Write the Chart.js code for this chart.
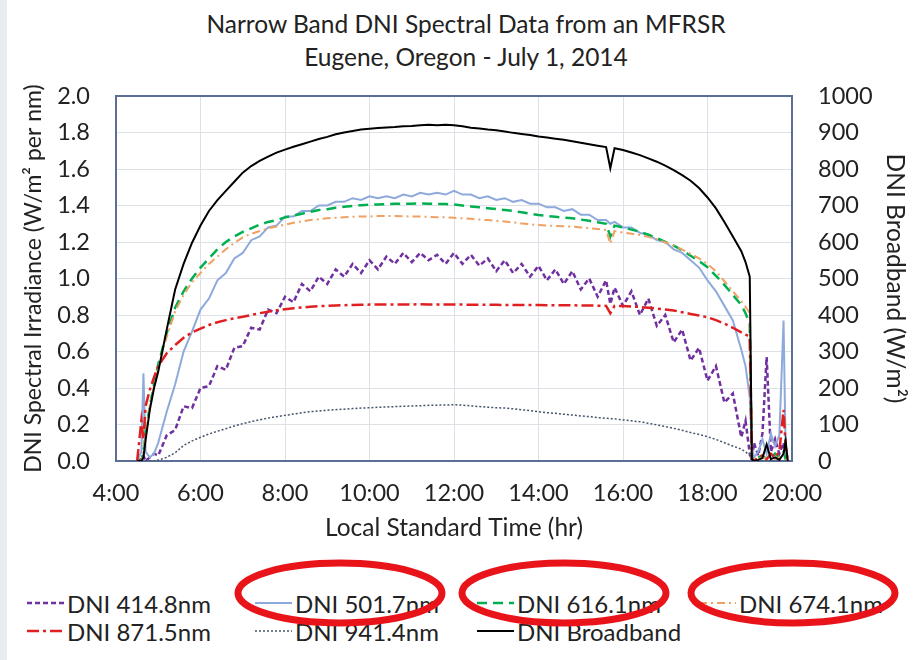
<!DOCTYPE html>
<html>
<head>
<meta charset="utf-8">
<script src="https://cdn.jsdelivr.net/npm/chart.js@4.4.1/dist/chart.umd.min.js"></script>
<style>
  body { margin: 0; background: #fff; }
  #wrap { position: relative; width: 917px; height: 660px; overflow: hidden; background: #fff; font-family: Lato, sans-serif; color: #222; }
  #strip { position: absolute; left: 0; top: 0; width: 7px; height: 660px; background: #e8ecf0; }
  #title { position: absolute; left: 0; top: 7px; width: 917px; padding-left: 15px; box-sizing: border-box; text-align: center; font-size: 24.5px; line-height: 33px; }
  #myChart { position: absolute; left: 0; top: 0; }
  #legend { position: absolute; left: 27px; top: 589px; display: grid; grid-template-columns: 228px 222px 222px 200px; grid-auto-rows: 28px; font-size: 24px; }
  .item { display: flex; align-items: center; white-space: nowrap; }
  .item svg { margin-right: 3px; }
  #marks { position: absolute; left: 0; top: 0; }
</style>
</head>
<body>
<div id="wrap">
  <div id="strip"></div>
  <div id="title">Narrow Band DNI Spectral Data from an MFRSR<br>Eugene, Oregon - July 1, 2014</div>
  <canvas id="myChart" width="917" height="545"></canvas>
  <div id="legend"></div>
  <svg id="marks" width="917" height="660">
    <ellipse cx="340" cy="593" rx="102" ry="30" fill="none" stroke="#e8141a" stroke-width="7"/>
    <ellipse cx="564" cy="593" rx="102" ry="30" fill="none" stroke="#e8141a" stroke-width="7"/>
    <ellipse cx="793" cy="593" rx="102" ry="30" fill="none" stroke="#e8141a" stroke-width="7"/>
  </svg>
</div>
<script>
// Heure locale (hr)
const timeHours = [
  4.5, 4.6, 4.65, 4.7, 4.8, 4.9,
  5.0, 5.2, 5.4, 5.6, 5.8, 6.0, 6.2, 6.4, 6.6, 6.8,
  7.0, 7.2, 7.4, 7.6, 7.8, 8.0, 8.2, 8.4, 8.6, 8.8,
  9.0, 9.2, 9.4, 9.6, 9.8, 10.0, 10.2, 10.4, 10.6, 10.8,
  11.0, 11.2, 11.4, 11.6, 11.8, 12.0, 12.2, 12.4, 12.6, 12.8,
  13.0, 13.2, 13.4, 13.6, 13.8, 14.0, 14.2, 14.4, 14.6, 14.8,
  15.0, 15.2, 15.4, 15.6, 15.7, 15.8,
  16.0, 16.2, 16.4, 16.6, 16.8, 17.0, 17.2, 17.4, 17.6, 17.8,
  18.0, 18.2, 18.4, 18.6, 18.8, 18.9, 19.0,
  19.05, 19.1, 19.2, 19.3, 19.4, 19.5, 19.6, 19.7, 19.8, 19.85, 19.9
];

// Irradiance spectrale (W/m2 par nm)
const dni414 = [
  0, 0.01, 0.03, 0.0, 0.02, 0.04,
  0.03, 0.14, 0.17, 0.3, 0.29, 0.4, 0.41, 0.52, 0.5, 0.62,
  0.63, 0.73, 0.72, 0.83, 0.81, 0.9, 0.87, 0.97, 0.93, 1.01,
  0.97, 1.05, 1.01, 1.08, 1.03, 1.1, 1.05, 1.12, 1.08, 1.14,
  1.09, 1.14, 1.1, 1.13, 1.08, 1.14, 1.08, 1.13, 1.07, 1.11,
  1.04, 1.1, 1.03, 1.08, 1.01, 1.07, 0.99, 1.05, 0.97, 1.04,
  0.94, 1.0, 0.9, 0.99, 0.86, 0.95,
  0.85, 0.93, 0.8, 0.89, 0.74, 0.8, 0.65, 0.72, 0.55, 0.62,
  0.44, 0.52, 0.32, 0.37, 0.13, 0.22, 0.04,
  0.01, 0.1, 0.03, 0.15, 0.57, 0.05, 0.12, 0.04, 0.1, 0.02, 0
];
const dni501 = [
  0, 0.05, 0.48, 0.05, 0.02, 0.04,
  0.1, 0.27, 0.42, 0.6, 0.71, 0.83, 0.89, 0.99, 1.03, 1.11,
  1.14, 1.21, 1.23, 1.28, 1.29, 1.34, 1.34, 1.37, 1.37, 1.4,
  1.4, 1.42, 1.42, 1.44, 1.43, 1.45, 1.44, 1.45, 1.44, 1.46,
  1.45, 1.47, 1.46, 1.47, 1.46, 1.48, 1.46, 1.46, 1.44, 1.45,
  1.43, 1.44, 1.42, 1.43, 1.41, 1.41, 1.39, 1.39, 1.37, 1.38,
  1.35, 1.35, 1.32, 1.32, 1.3, 1.31,
  1.28, 1.28, 1.25, 1.24, 1.21, 1.2, 1.16, 1.14, 1.1, 1.06,
  0.99, 0.93, 0.85, 0.77, 0.61, 0.52, 0.35,
  0.08, 0.02, 0.05, 0.12, 0.04, 0.15, 0.08, 0.14, 0.77, 0.05, 0
];
const dni616 = [
  0, 0, 0.05, 0.15, 0.3, 0.42,
  0.53, 0.7, 0.84, 0.93, 1.0, 1.06, 1.11, 1.16, 1.2, 1.23,
  1.255, 1.275, 1.295, 1.31, 1.32, 1.335, 1.345, 1.355, 1.365, 1.375,
  1.38, 1.388, 1.393, 1.398, 1.402, 1.405, 1.406, 1.408, 1.41, 1.41,
  1.41, 1.412, 1.41, 1.408, 1.408, 1.405, 1.4, 1.395, 1.39, 1.385,
  1.38, 1.375, 1.37, 1.363, 1.355, 1.348, 1.343, 1.338, 1.334, 1.33,
  1.323, 1.316, 1.308, 1.3, 1.23, 1.29,
  1.28, 1.268, 1.256, 1.24, 1.222, 1.2, 1.18, 1.155, 1.125, 1.095,
  1.062, 1.015, 0.965, 0.91, 0.855, 0.81, 0.75,
  0.02, 0, 0.02, 0.03, 0.01, 0.02, 0.04, 0.02, 0.05, 0.01, 0
];
const dni674 = [
  0, 0, 0.05, 0.15, 0.3, 0.41,
  0.51, 0.68, 0.82, 0.91, 0.98, 1.03, 1.08, 1.12, 1.16, 1.195,
  1.225, 1.245, 1.26, 1.275, 1.285, 1.295, 1.305, 1.313, 1.32, 1.325,
  1.33, 1.333, 1.336, 1.338, 1.34, 1.34, 1.342, 1.342, 1.342, 1.341,
  1.34, 1.34, 1.338, 1.336, 1.335, 1.333, 1.33, 1.327, 1.323, 1.32,
  1.316, 1.312, 1.307, 1.302, 1.297, 1.293, 1.29, 1.288, 1.286, 1.284,
  1.28, 1.276, 1.271, 1.266, 1.19, 1.26,
  1.252, 1.245, 1.238, 1.228, 1.215, 1.198, 1.18, 1.158, 1.135, 1.11,
  1.08, 1.04, 0.985, 0.93, 0.875, 0.845, 0.81,
  0.02, 0, 0.01, 0.02, 0.01, 0.03, 0.01, 0.02, 0.04, 0.01, 0
];
const dni871 = [
  0, 0.22, 0.12, 0.3, 0.39, 0.46,
  0.52, 0.59, 0.635, 0.675, 0.705, 0.725, 0.745, 0.76, 0.772, 0.782,
  0.79, 0.8, 0.81, 0.818, 0.826, 0.832, 0.837, 0.841, 0.845, 0.848,
  0.85, 0.852, 0.854, 0.855, 0.856, 0.857, 0.857, 0.858, 0.858, 0.858,
  0.858, 0.859, 0.858, 0.858, 0.857, 0.857, 0.857, 0.856, 0.856, 0.856,
  0.856, 0.855, 0.855, 0.855, 0.855, 0.855, 0.854, 0.854, 0.853, 0.853,
  0.852, 0.852, 0.851, 0.85, 0.81, 0.85,
  0.849, 0.847, 0.844, 0.84, 0.835, 0.83, 0.825, 0.815, 0.806, 0.797,
  0.788, 0.772, 0.753, 0.73, 0.705, 0.693, 0.68,
  0.01, 0, 0.02, 0.03, 0.01, 0.04, 0.02, 0.05, 0.28, 0.08, 0
];
const dni941 = [
  0, 0, 0, 0, 0, 0,
  0.005, 0.02, 0.045, 0.085, 0.11, 0.13, 0.148, 0.163, 0.177, 0.192,
  0.205, 0.216, 0.226, 0.235, 0.243, 0.25, 0.257, 0.264, 0.27, 0.274,
  0.278, 0.281, 0.284, 0.287, 0.29, 0.292, 0.294, 0.296, 0.298, 0.3,
  0.301, 0.303, 0.305, 0.306, 0.307, 0.308, 0.306, 0.302, 0.298, 0.295,
  0.292, 0.29, 0.286, 0.281, 0.276, 0.27, 0.265, 0.261, 0.256, 0.252,
  0.247, 0.243, 0.238, 0.234, 0.232, 0.231,
  0.225, 0.22, 0.215, 0.207, 0.198, 0.189, 0.179, 0.168, 0.156, 0.145,
  0.133, 0.118, 0.1, 0.082, 0.065, 0.05, 0.03,
  0, 0, 0, 0, 0, 0, 0, 0, 0, 0, 0
];
// Rayonnement direct large bande (W/m2), axe de droite
const dniBroadband = [
  0, 0, 10, 57, 140, 200,
  245, 360, 470, 540, 598, 645, 685, 715, 740, 765,
  790, 808, 822, 834, 845, 853, 861, 868, 875, 882,
  888, 895, 900, 904, 908, 910, 912, 914, 915, 917,
  918, 920, 921, 920, 921, 920, 917, 913, 911, 908,
  906, 903, 899, 896, 893, 889, 886, 883, 880, 876,
  872, 868, 864, 860, 802, 857,
  852, 845, 838, 829, 820, 809, 797, 783, 768, 748,
  722, 692, 655, 615, 575, 545, 505,
  5, 0, 3, 8, 45, 5, 10, 3, 20, 55, 0
];

const seriesLabels = ['DNI 414.8nm', 'DNI 501.7nm', 'DNI 616.1nm', 'DNI 674.1nm', 'DNI 871.5nm', 'DNI 941.4nm', 'DNI Broadband'];

const FONT = 'Lato, sans-serif';
const TEXT = '#222222';

function points(values) {
  return timeHours.map((t, i) => ({ x: t, y: values[i] }));
}

const styles = [
  { color: '#7030a0', width: 2.5, dash: [5, 3] },
  { color: '#8eaadc', width: 2, dash: [] },
  { color: '#00b050', width: 2.5, dash: [10, 6] },
  { color: '#f0a062', width: 2, dash: [8, 4, 2, 4] },
  { color: '#e02020', width: 2.5, dash: [12, 4, 3, 4] },
  { color: '#44546a', width: 1.5, dash: [2, 2] },
  { color: '#000000', width: 2, dash: [] }
];
const values = [dni414, dni501, dni616, dni674, dni871, dni941, dniBroadband];

const datasets = values.map((v, i) => ({
  label: seriesLabels[i],
  data: points(v),
  yAxisID: i === 6 ? 'y1' : 'y',
  borderColor: styles[i].color,
  borderWidth: styles[i].width,
  borderDash: styles[i].dash,
  pointRadius: 0,
  fill: false,
  tension: 0,
  order: 7 - i
}));

// Cadre de la zone de tracé
const framePlugin = {
  id: 'frame',
  beforeDatasetsDraw(chart) {
    const a = chart.chartArea;
    const c = chart.ctx;
    c.save();
    c.strokeStyle = '#5b6f96';
    c.lineWidth = 2;
    c.strokeRect(a.left, a.top, a.right - a.left, a.bottom - a.top);
    c.restore();
  }
};

const ctx = document.getElementById('myChart').getContext('2d');
const myChart = new Chart(ctx, {
  type: 'line',
  data: { datasets: datasets },
  options: {
    responsive: false,
    animation: false,
    devicePixelRatio: 1,
    layout: { padding: { top: 96, left: 0, right: 0, bottom: 0 } },
    plugins: { legend: { display: false }, tooltip: { enabled: false } },
    scales: {
      x: {
        type: 'linear',
        min: 4, max: 20,
        afterFit: s => { s.height = 84; },
        ticks: { stepSize: 2, padding: 18, maxRotation: 0, autoSkip: false, color: TEXT, font: { family: FONT, size: 23.5 },
          callback: v => v + ':00' },
        grid: { color: '#dde1e6', lineWidth: 1, drawTicks: false },
        border: { display: false },
        title: { display: true, text: 'Local Standard Time (hr)', color: TEXT, font: { family: FONT, size: 24.5 }, padding: { top: 0, bottom: 2 } }
      },
      y: {
        position: 'left',
        min: 0, max: 2,
        afterFit: s => { s.width = 116; },
        ticks: { stepSize: 0.2, padding: 26, color: TEXT, font: { family: FONT, size: 23.5 },
          callback: v => v.toFixed(1) },
        grid: { color: '#dde1e6', lineWidth: 1, drawTicks: false },
        border: { display: false },
        title: { display: true, text: 'DNI Spectral Irradiance (W/m\u00b2 per nm)', color: TEXT, font: { family: FONT, size: 23 }, padding: { top: 20, bottom: 0 } }
      },
      y1: {
        position: 'right',
        min: 0, max: 1000,
        afterFit: s => { s.width = 125; },
        ticks: { stepSize: 100, padding: 26, color: TEXT, font: { family: FONT, size: 23.5 },
          callback: v => String(v) },
        grid: { drawOnChartArea: false, drawTicks: false },
        border: { display: false },
        title: { display: true, text: 'DNI Broadband (W/m\u00b2)', color: TEXT, font: { family: FONT, size: 24.5 }, padding: { top: 7, bottom: 0 } }
      }
    }
  },
  plugins: [framePlugin]
});

// Légende HTML en grille (4 colonnes, comme l'original)
const legend = document.getElementById('legend');
datasets.forEach(ds => {
  const item = document.createElement('div');
  item.className = 'item';
  const dash = ds.borderDash.length ? ds.borderDash.join(' ') : 'none';
  item.innerHTML = '<svg width="37" height="10"><line x1="0" y1="5" x2="37" y2="5" stroke="' + ds.borderColor +
    '" stroke-width="' + ds.borderWidth + '" stroke-dasharray="' + dash + '"/></svg><span>' + ds.label + '</span>';
  legend.appendChild(item);
});
</script>
</body>
</html>
